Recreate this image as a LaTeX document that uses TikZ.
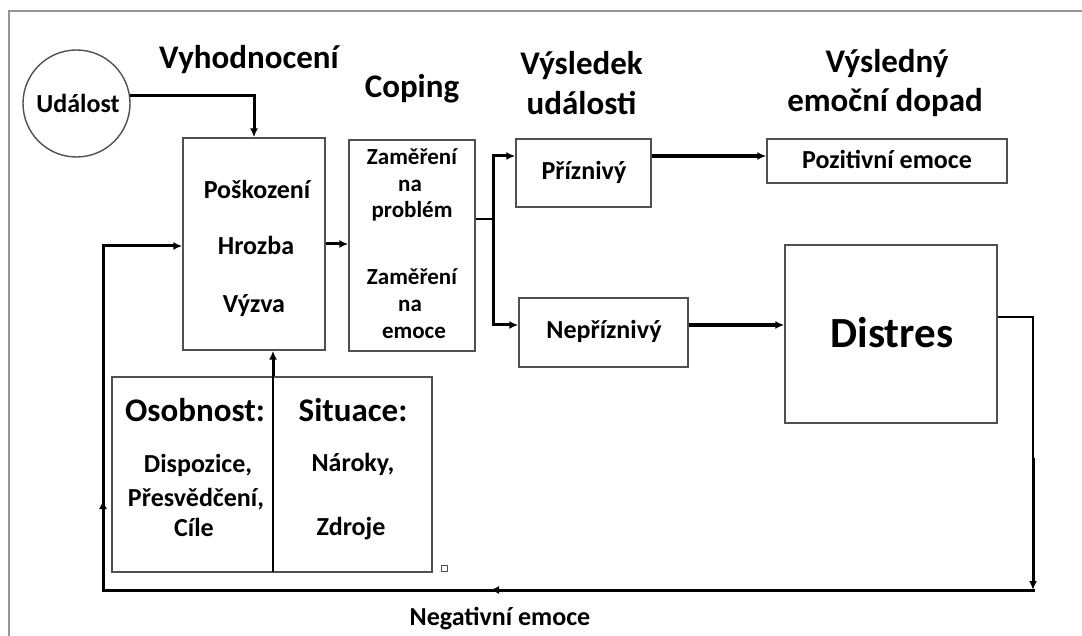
\documentclass[tikz,border=0pt]{standalone}
\usepackage{fontspec}
\setmainfont{Carlito}
\usetikzlibrary{arrows.meta,decorations.markings}
\definecolor{boxgray}{RGB}{80,80,80}
\definecolor{framegray}{RGB}{150,150,150}
\begin{document}
\begin{tikzpicture}[x=1pt,y=-1pt,
  box/.style={draw=boxgray, line width=1.4pt, inner sep=0pt},
  txt/.style={font=\bfseries\fontsize{26}{30}\selectfont, anchor=base, inner sep=0pt},
  small/.style={font=\bfseries\fontsize{23}{27}\selectfont, anchor=base, inner sep=0pt},
  ttl/.style={font=\bfseries\fontsize{33}{40}\selectfont, anchor=base, inner sep=0pt},
  arr/.style={-{Latex[length=9pt,width=8pt]}, line width=3pt},
  tip/.style={decoration={markings, mark=at position #1 with {\arrow{Latex[length=9pt,width=8pt]}}}, postaction=decorate}
]
\useasboundingbox (0,0) rectangle (1082,636);
\draw[framegray, line width=1.5pt] (9,636) -- (9,11) -- (1082,11);

% titles
\node[ttl] (t1) at (249,69) {Vyhodnocení};
\node[ttl] (t2) at (412,98) {Coping};
\node[ttl] (t3a) at (581.5,75) {Výsledek};
\node[ttl] (t3b) at (581.5,115) {události};
\node[ttl] (t4a) at (887,73) {Výsledný};
\node[ttl] (t4b) at (885,112) {emoční dopad};

% event
\node[circle, draw=boxgray, line width=1.4pt, minimum size=107pt, inner sep=0pt] (ev) at (76.5,103.5) {};
\node[txt] (evt) at (78,113) {Událost};

% appraisal
\node[box, minimum width=142pt, minimum height=212pt] (appr) at (254,244) {};
\node[txt] (a1) at (257,199) {Poškození};
\node[txt] (a2) at (256,255) {Hrozba};
\node[txt] (a3) at (254,313) {Výzva};

% coping
\node[box, minimum width=126pt, minimum height=211pt] (cop) at (412,245.5) {};
\node[small] (c1) at (412,165) {Zaměření};
\node[small] (c2) at (410,192) {na};
\node[small] (c3) at (412,218) {problém};
\node[small] (c4) at (412,285) {Zaměření};
\node[small] (c5) at (410,312) {na};
\node[small] (c6) at (414,338) {emoce};

% outcomes
\node[box, minimum width=135pt, minimum height=68pt] (pri) at (583.5,173) {};
\node[txt] (prit) at (584,180) {Příznivý};
\node[box, minimum width=169pt, minimum height=69pt] (nep) at (603.5,332.5) {};
\node[txt] (nept) at (604,339) {Nepříznivý};

% results
\node[box, minimum width=240pt, minimum height=44pt] (poz) at (887,161) {};
\node[txt] (pozt) at (887,169) {Pozitivní emoce};
\node[box, minimum width=212pt, minimum height=178pt] (dis) at (891,334) {};
\node[font=\bfseries\fontsize{43}{50}\selectfont, anchor=base, inner sep=0pt] (dist) at (892,348) {Distres};

% person / situation
\node[box, minimum width=320pt, minimum height=195pt] (bx) at (272,474.5) {};
\node[ttl] (o1) at (195,421) {Osobnost:};
\node[ttl] (s1) at (353,421) {Situace:};
\node[txt] (o2) at (198,472) {Dispozice,};
\node[txt] (o3) at (196,506) {Přesvědčení,};
\node[txt] (o4) at (194,536) {Cíle};
\node[txt] (s2) at (353,471) {Nároky,};
\node[txt] (s3) at (351,535) {Zdroje};
\node[draw=boxgray, line width=1pt, minimum size=6pt, inner sep=0pt] (sq) at (444,568) {};

\node[txt] (neg) at (500,625) {Negativní emoce};

% connectors
\draw[arr] (ev.9) -| (appr.north);
\draw[arr] (appr.east) -- (appr.east -| cop.west);
\coordinate (br) at (493,219);
\draw[line width=2pt] (cop.east |- br) -- (br);
\draw[arr] (br) |- ([yshift=17pt]pri.west);
\draw[arr] (br) |- ([yshift=7.5pt]nep.west);
\draw[arr, line width=3.5pt] ([yshift=17pt]pri.east) -- ([yshift=17pt]pri.east -| poz.west);
\draw[arr, line width=3.5pt] ([yshift=7.5pt]nep.east) -- ([yshift=7.5pt]nep.east -| dis.west);

\coordinate (rc) at (1033,458);
\coordinate (rb) at (1033,590);
\coordinate (lb) at (103,590);
\draw[line width=2pt] ([yshift=17pt]dis.east) -| (rc);
\draw[arr] (rc) -- (rb);
\draw[line width=3pt, tip=543pt, line cap=rect] (rb) -- (lb);
\draw[arr, tip=90pt] (lb) |- ([yshift=-2pt]appr.west);

\coordinate (dv) at (273,572);
\draw[line width=1.5pt] (dv) -- (dv |- bx.north);
\draw[arr] (dv |- bx.north) -- (dv |- appr.south);
\end{tikzpicture}
\end{document}
